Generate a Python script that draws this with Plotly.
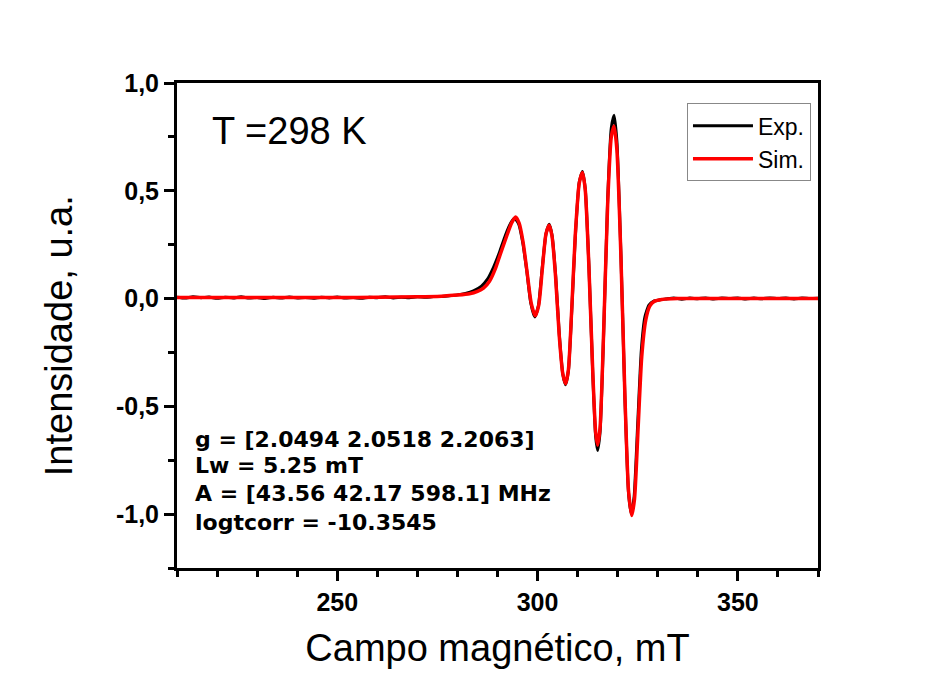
import plotly.graph_objects as go

# ---------------- data ----------------
field_exp = [210, 212, 214, 216, 218, 220, 222, 224, 226, 228, 230, 232, 234, 236, 238, 240,
             242, 244, 246, 248, 250, 252, 254, 256, 258, 260, 262, 264, 266, 268, 270, 272,
             274, 276, 278, 280, 282, 284, 286, 287.5, 289, 290.5, 292, 293.3, 294.3, 295.3,
             296.3, 297.3, 298.3, 299.3, 300.2, 301.1, 302.1, 302.9, 303.6, 304.5, 305.4,
             306.3, 307.0, 307.7, 308.5, 309.4, 310.4, 311.2, 311.9, 312.8, 313.8, 314.5,
             315.0, 315.6, 316.5, 317.5, 318.4, 319.1, 319.8, 320.8, 321.8, 322.7, 323.4,
             324.1, 325.0, 325.9, 326.8, 327.8, 329.0, 330.5, 332, 334, 336, 338, 340, 342,
             344, 346, 348, 350, 352, 354, 356, 358, 360, 362, 364, 366, 368, 370]
int_exp = [0.006, 0.002, 0.008, 0.004, 0.007, 0.001, 0.006, 0.003, 0.008, 0.002, 0.005, 0.000,
           0.006, 0.002, 0.007, 0.003, 0.005, 0.001, 0.006, 0.003, 0.007, 0.002, 0.005, 0.001,
           0.006, 0.004, 0.008, 0.003, 0.006, 0.004, 0.008, 0.006, 0.009, 0.010, 0.013, 0.017,
           0.024, 0.036, 0.058, 0.090, 0.145, 0.215, 0.295, 0.350, 0.372, 0.345, 0.260, 0.130,
           -0.020, -0.085, -0.035, 0.130, 0.300, 0.345, 0.295, 0.110, -0.160, -0.350, -0.400,
           -0.335, -0.070, 0.280, 0.540, 0.590, 0.510, 0.160, -0.360, -0.640, -0.705, -0.620,
           -0.160, 0.460, 0.790, 0.850, 0.730, 0.210, -0.460, -0.900, -1.000, -0.920, -0.580,
           -0.240, -0.085, -0.030, -0.012, -0.006, -0.002, 0.003, -0.003, 0.002, -0.001, 0.003,
           -0.002, 0.002, 0.000, 0.003, -0.002, 0.002, -0.001, 0.003, 0.000, 0.002, -0.002,
           0.002, 0.000, 0.001]

field_sim = [210, 220, 230, 240, 250, 260, 270, 276, 280, 283, 285, 286.5, 288, 289.5, 290.6,
             292.3, 293.5, 294.5, 295.4, 296.4, 297.4, 298.4, 299.4, 300.3, 301.2, 302.1,
             302.9, 303.6, 304.5, 305.4, 306.3, 307.0, 307.7, 308.5, 309.4, 310.4, 311.2,
             311.9, 312.8, 313.8, 314.5, 315.0, 315.6, 316.5, 317.5, 318.4, 319.1, 319.8,
             320.8, 321.8, 322.7, 323.5, 324.2, 325.1, 326.0, 327.0, 328.0, 329.2, 331, 335,
             340, 350, 360, 370]
int_sim = [0.005, 0.005, 0.005, 0.005, 0.005, 0.006, 0.008, 0.011, 0.016, 0.022, 0.033, 0.048,
           0.080, 0.140, 0.200, 0.290, 0.350, 0.378, 0.350, 0.260, 0.120, -0.020, -0.080,
           -0.030, 0.140, 0.300, 0.340, 0.290, 0.100, -0.170, -0.350, -0.395, -0.330, -0.060,
           0.290, 0.535, 0.585, 0.505, 0.155, -0.350, -0.620, -0.680, -0.600, -0.150, 0.440,
           0.750, 0.800, 0.690, 0.200, -0.450, -0.890, -1.007, -0.930, -0.600, -0.270, -0.100,
           -0.035, -0.012, -0.004, 0.000, 0.000, 0.000, 0.000, 0.000]

x_ticks = [250, 300, 350]
y_ticks = [-1.0, -0.5, 0.0, 0.5, 1.0]
y_tick_text = ["-1,0", "-0,5", "0,0", "0,5", "1,0"]
x_range = [210, 370]
y_range = [-1.25, 1.0]

series_names = ["Exp.", "Sim."]
x_title = "Campo magnético, mT"
y_title = "Intensidade, u.a."
temp_label = "T =298 K"
fit_lines = ["g = [2.0494 2.0518 2.2063]",
             "Lw = 5.25 mT",
             "A = [43.56 42.17 598.1] MHz",
             "logtcorr = -10.3545"]

FONT = "Liberation Sans, Arial, sans-serif"
WIDE_BOLD = "DejaVu Sans, Liberation Sans, sans-serif"

fig = go.Figure()
fig.add_trace(go.Scatter(x=field_exp, y=int_exp, mode="lines", name=series_names[0],
                         line=dict(color="black", width=3, shape="spline", smoothing=0.5)))
fig.add_trace(go.Scatter(x=field_sim, y=int_sim, mode="lines", name=series_names[1],
                         line=dict(color="#ff0000", width=3.5, shape="spline", smoothing=0.6)))

axis_common = dict(showgrid=False, zeroline=False, showline=True, linecolor="black",
                   linewidth=3, mirror=True, ticks="outside", ticklen=10, tickwidth=2.5,
                   tickcolor="black",
                   tickfont=dict(family=FONT, size=25, color="black", weight="bold"))

fig.update_xaxes(range=x_range, tickmode="array", tickvals=x_ticks,
                 ticktext=[str(v) for v in x_ticks],
                 minor=dict(dtick=10, tick0=0, ticks="outside", ticklen=6, tickwidth=2.5,
                            tickcolor="black"),
                 title=dict(text=x_title,
                            font=dict(family=FONT, size=38, color="black"), standoff=20),
                 **axis_common)
fig.update_yaxes(range=y_range, tickmode="array", tickvals=y_ticks, ticktext=y_tick_text,
                 minor=dict(dtick=0.25, tick0=0, ticks="outside", ticklen=6, tickwidth=2.5,
                            tickcolor="black"),
                 **axis_common)

# y-axis title (placed slightly below the axis centre, as in the original)
fig.add_annotation(text=y_title, xref="paper", yref="paper", x=-0.184, y=0.478,
                   xanchor="center", yanchor="middle", textangle=-90, showarrow=False,
                   font=dict(family=FONT, size=38, color="black"))

fig.add_annotation(text=temp_label, xref="paper", yref="paper", x=0.0515, y=0.902,
                   xanchor="left", yanchor="middle", showarrow=False,
                   font=dict(family=FONT, size=38, color="black"))

line_y = [0.2658, 0.2106, 0.1534, 0.0941]
for txt, yy in zip(fit_lines, line_y):
    fig.add_annotation(text=txt, xref="paper", yref="paper", x=0.025, y=yy,
                       xanchor="left", yanchor="middle", showarrow=False,
                       font=dict(family=WIDE_BOLD, size=22, color="black", weight="bold"))

fig.update_layout(
    width=934, height=675,
    margin=dict(l=177, r=116, t=83, b=103),
    paper_bgcolor="white", plot_bgcolor="white",
    showlegend=True,
    legend=dict(x=0.7956, y=0.958, xanchor="left", yanchor="top",
                bgcolor="white", bordercolor="#888888", borderwidth=1,
                font=dict(family=FONT, size=23, color="black"),
                itemwidth=60, tracegroupgap=0),
)

fig.write_html("out.html")
